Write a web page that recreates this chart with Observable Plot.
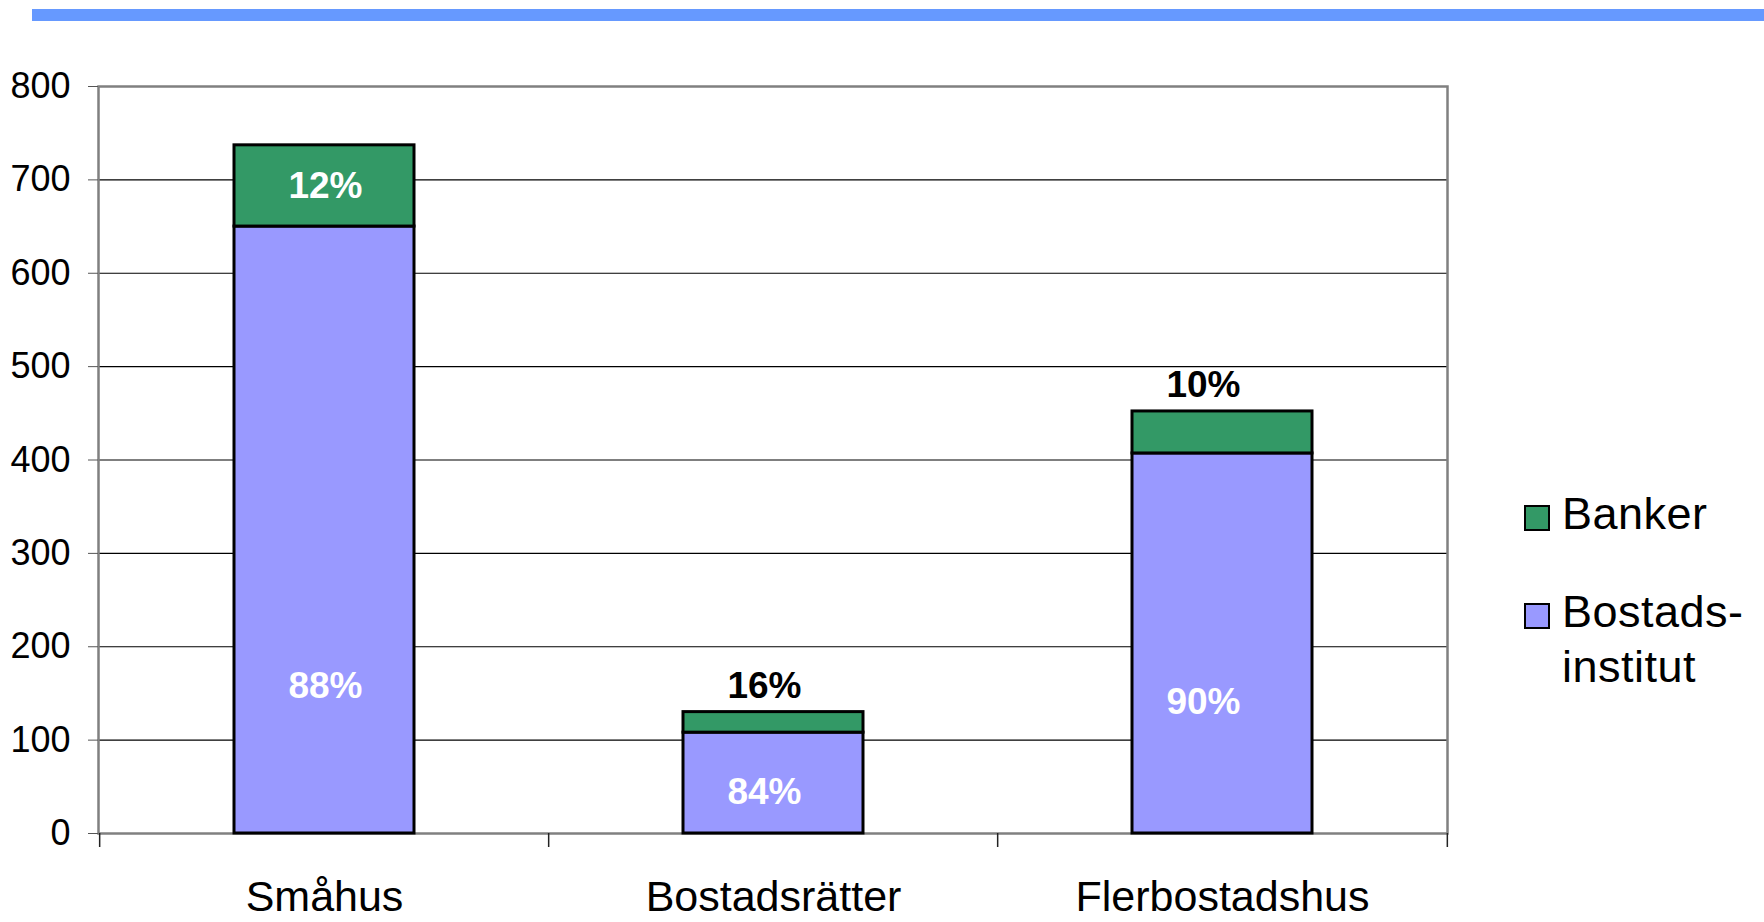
<!DOCTYPE html>
<html>
<head>
<meta charset="utf-8">
<script src="https://cdn.jsdelivr.net/npm/d3@7"></script>
<script src="https://cdn.jsdelivr.net/npm/@observablehq/plot@0.6"></script>
<style>
  body { margin: 0; background: white; font-family: "Liberation Sans", Arial, sans-serif; }
  #wrap { position: relative; width: 1764px; height: 922px; overflow: hidden; }
  #topbar { position: absolute; left: 32px; top: 9px; width: 1732px; height: 12px; background: #6699ff; }
  #chart { position: absolute; left: 0; top: 0; }
  .sw { position: absolute; width: 26px; height: 26px; box-sizing: border-box; border: 2.5px solid black; }
  .lt { position: absolute; font-size: 45px; line-height: 55px; color: black; white-space: nowrap; letter-spacing: 0.5px; }
</style>
</head>
<body>
<div id="wrap">
  <div id="chart"></div>
  <div id="topbar"></div>
  <div id="legend"></div>
</div>
<script>
// ---- data ----
const categories = ["Småhus", "Bostadsrätter", "Flerbostadshus"];
const series = ["Bostadsinstitut", "Banker"];
const seriesColors = ["#9999ff", "#339966"];
const institut = [650, 108, 407];
const banker = [87, 22, 45];
const institutPct = ["88%", "84%", "90%"];
const bankerPct = ["12%", "16%", "10%"];
const institutLabelAt = [158, 44, 141];
const bankerLabelInside = [true, false, false];
const labelShift = [1, -9, -19];
const yTicks = [0, 100, 200, 300, 400, 500, 600, 700, 800];
const legendItems = [
  {name: "Banker", lines: ["Banker"]},
  {name: "Bostadsinstitut", lines: ["Bostads-", "institut"]}
];

// ---- tables ----
const rows = [];
categories.forEach((c, i) => {
  rows.push({cat: c, series: "Bostadsinstitut", value: institut[i]});
  rows.push({cat: c, series: "Banker", value: banker[i]});
});

const W = 1764, H = 922, ml = 98, mr = 317, mt = 86, mb = 89;
const step = (W - ml - mr) / categories.length;
const font = "Liberation Sans, Arial, sans-serif";

const labelMarks = categories.flatMap((c, i) => {
  const lab = {fontSize: 37, fontWeight: "bold", dx: labelShift[i]};
  const marks = [
    Plot.text([{cat: c, y: institutLabelAt[i], text: institutPct[i]}], {x: "cat", y: "y", text: "text", fill: "white", ...lab})
  ];
  if (bankerLabelInside[i]) {
    marks.push(Plot.text([{cat: c, y: institut[i] + banker[i] / 2, text: bankerPct[i]}], {x: "cat", y: "y", text: "text", fill: "white", ...lab}));
  } else {
    marks.push(Plot.text([{cat: c, y: institut[i] + banker[i], text: bankerPct[i]}], {x: "cat", y: "y", text: "text", fill: "black", dy: -26, ...lab}));
  }
  return marks;
});

const chart = Plot.plot({
  width: W, height: H,
  marginLeft: ml, marginRight: mr, marginTop: mt, marginBottom: mb,
  style: {fontFamily: font, background: "transparent", overflow: "visible"},
  x: {domain: categories, paddingInner: 0.6, paddingOuter: 0.3, label: null},
  y: {domain: [0, 800], label: null},
  color: {domain: series, range: seriesColors},
  marks: [
    Plot.gridY(yTicks.filter(t => t > 0 && t < 800), {stroke: "black", strokeOpacity: 1, strokeWidth: 1.2}),
    Plot.frame({stroke: "#808080", strokeWidth: 2.5}),
    Plot.barY(rows, {x: "cat", y: "value", fill: "series", stroke: "black", strokeWidth: 3}),
    Plot.ruleX(categories, {x: d => d, dx: -step / 2, y1: 0, y2: 0, insetTop: 14, stroke: "#222", strokeWidth: 1.5}),
    Plot.ruleX([categories[categories.length - 1]], {x: d => d, dx: step / 2, y1: 0, y2: 0, insetTop: 14, stroke: "#222", strokeWidth: 1.5}),
    Plot.axisY({ticks: yTicks, tickSize: 10, tickPadding: 18, fontSize: 36, stroke: "#555", fill: "black", tickFormat: d => String(d)}),
    Plot.axisX({tickSize: 0, tickPadding: 47, fontSize: 43, fill: "black"}),
    ...labelMarks
  ]
});
document.getElementById("chart").appendChild(chart);

// ---- legend (right side) ----
const legend = document.getElementById("legend");
const colorOf = name => seriesColors[series.indexOf(name)];
const legendTops = [486, 584];
legendItems.forEach((item, k) => {
  const top = legendTops[k];
  const sw = document.createElement("div");
  sw.className = "sw";
  sw.style.left = "1524px";
  sw.style.top = (top + 19) + "px";
  sw.style.background = colorOf(item.name);
  legend.appendChild(sw);
  const t = document.createElement("div");
  t.className = "lt";
  t.style.left = "1562px";
  t.style.top = top + "px";
  t.innerHTML = item.lines.join("<br>");
  legend.appendChild(t);
});
</script>
</body>
</html>
